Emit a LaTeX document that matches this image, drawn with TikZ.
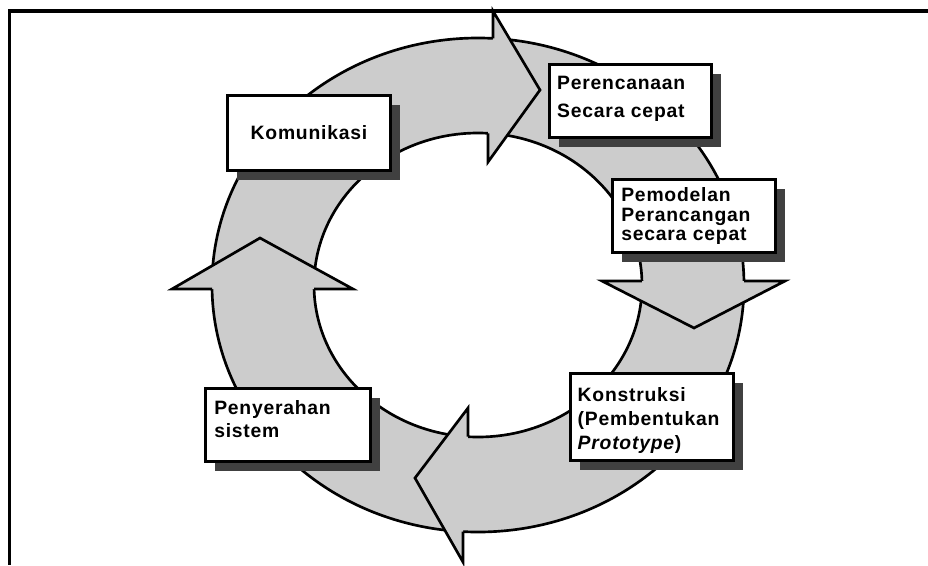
\documentclass[tikz,border=0pt]{standalone}
\usepackage{fontspec}
\setmainfont{Liberation Sans}[LetterSpace=4]
\usetikzlibrary{shadows}
\definecolor{ringgray}{HTML}{CCCCCC}
\definecolor{shadowc}{HTML}{404040}
\tikzset{
  ring/.style={fill=ringgray},
  ringline/.style={draw=black, line width=2pt, line join=miter},
  headfill/.style={fill=ringgray},
  stagebox/.style={draw=black, fill=white, line width=2.5pt, rectangle, inner xsep=0pt, inner ysep=0pt,
    general shadow={shadow xshift=6.75pt, shadow yshift=-6.75pt, fill=shadowc},
    font=\fontsize{14.5}{20}\selectfont\bfseries},
  frame/.style={draw=black, line width=2.3pt}
}
\begin{document}
\begin{tikzpicture}[x=0.75pt, y=-0.75pt]
\useasboundingbox (0,0) rectangle (928,565);
% frame (top and left lines only)
\coordinate (ftr) at (928,11);
\coordinate (ftl) at (9.5,11);
\coordinate (fbl) at (9.5,565);
\draw[frame] (ftr) -- (ftl) -- (fbl);
% ring
\coordinate (c) at (478,285);
\fill[ring, even odd rule] (c) ellipse [x radius=199.5pt, y radius=185.25pt]
                           (c) ellipse [x radius=123pt, y radius=114pt];
\draw[ringline] (c) ellipse [x radius=199.5pt, y radius=185.25pt];
\draw[ringline] (c) ellipse [x radius=123pt, y radius=114pt];
% top arrow (pointing right)
\coordinate (t1) at (493,38.4); \coordinate (t2) at (493,11); \coordinate (t3) at (540,90);
\coordinate (t4) at (488,162); \coordinate (t5) at (488,133.3);
\fill[headfill] (t1) -- (t2) -- (t3) -- (t4) -- (t5) -- cycle;
\draw[ringline] (t1) -- (t2) -- (t3) -- (t4) -- (t5);
% right arrow (pointing down)
\coordinate (r1) at (641.9,281); \coordinate (r2) at (602,281); \coordinate (r3) at (694,328);
\coordinate (r4) at (785,281); \coordinate (r5) at (744,281);
\fill[headfill] (r1) -- (r2) -- (r3) -- (r4) -- (r5) -- cycle;
\draw[ringline] (r1) -- (r2) -- (r3) -- (r4) -- (r5);
% bottom arrow (pointing left)
\coordinate (b1) at (468,436.7); \coordinate (b2) at (468,408); \coordinate (b3) at (415,478);
\coordinate (b4) at (463,562); \coordinate (b5) at (463,531.6);
\fill[headfill] (b1) -- (b2) -- (b3) -- (b4) -- (b5) -- cycle;
\draw[ringline] (b1) -- (b2) -- (b3) -- (b4) -- (b5);
% left arrow (pointing up)
\coordinate (l1) at (212,289); \coordinate (l2) at (172,289); \coordinate (l3) at (260,238);
\coordinate (l4) at (353,289); \coordinate (l5) at (314,289);
\fill[headfill] (l1) -- (l2) -- (l3) -- (l4) -- (l5) -- cycle;
\draw[ringline] (l1) -- (l2) -- (l3) -- (l4) -- (l5);
% boxes
\node[stagebox, minimum width=122.25pt, minimum height=56.25pt, align=center] (kom) at (309,133) {Komunikasi};
\node[stagebox, minimum width=121.5pt, minimum height=54.75pt, text width=109.9pt, align=left,
      font=\fontsize{14.5}{20.5}\selectfont\bfseries] (per) at (630.5,101) {Perencanaan\\Secara cepat\\[-14.5pt]\mbox{}};
\node[stagebox, minimum width=122.25pt, minimum height=54.75pt, text width=109pt, align=left,
      font=\fontsize{14.5}{14.3}\selectfont\bfseries] (pem) at (694,216) {Pemodelan\\Perancangan\\secara cepat};
\node[stagebox, minimum width=122.25pt, minimum height=65.25pt, text width=111.4pt, align=left,
      font=\fontsize{14.5}{18}\selectfont\bfseries] (kon) at (652,417) {\mbox{}\\[-3pt]Konstruksi\\(Pembentukan\\\textit{Prototype})};
\node[stagebox, minimum width=123.75pt, minimum height=54.75pt, text width=110.6pt, align=left,
      font=\fontsize{14.5}{17.3}\selectfont\bfseries] (pen) at (288,425) {Penyerahan\\sistem\\[-8.3pt]\mbox{}};
\end{tikzpicture}
\end{document}
